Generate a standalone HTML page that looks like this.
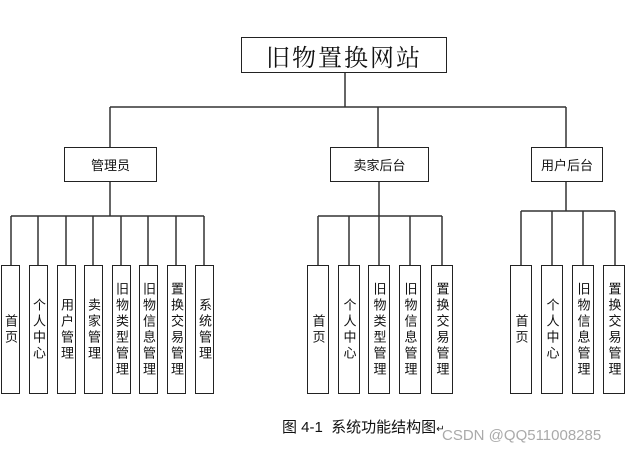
<!DOCTYPE html>
<html><head><meta charset="utf-8"><style>
body{margin:0;width:632px;height:454px;background:#fff;position:relative;overflow:hidden;font-family:"Liberation Sans","Noto Sans CJK SC",sans-serif;}
.b{position:absolute;border:1.5px solid #222;box-sizing:border-box;display:flex;align-items:center;justify-content:center;color:#111;background:#fff}
.v{writing-mode:vertical-rl;font-size:13px;letter-spacing:3px;line-height:1}
svg{position:absolute;left:0;top:0}
</style></head><body>
<svg width="632" height="454">
<g stroke="#333" stroke-width="1.5" fill="none">
<line x1="345" y1="72" x2="345" y2="107"/>
<line x1="110" y1="107" x2="566" y2="107"/>
<line x1="110" y1="107" x2="110" y2="147"/>
<line x1="378" y1="107" x2="378" y2="147"/>
<line x1="566" y1="107" x2="566" y2="147"/>
<line x1="110" y1="182" x2="110" y2="216"/>
<line x1="11" y1="216" x2="204" y2="216"/>
<line x1="11" y1="216" x2="11" y2="265"/><line x1="38" y1="216" x2="38" y2="265"/><line x1="66" y1="216" x2="66" y2="265"/><line x1="93" y1="216" x2="93" y2="265"/><line x1="121" y1="216" x2="121" y2="265"/><line x1="148" y1="216" x2="148" y2="265"/><line x1="176" y1="216" x2="176" y2="265"/><line x1="204" y1="216" x2="204" y2="265"/>
<line x1="379" y1="182" x2="379" y2="216"/>
<line x1="318" y1="216" x2="442" y2="216"/>
<line x1="318" y1="216" x2="318" y2="265"/><line x1="349" y1="216" x2="349" y2="265"/><line x1="379" y1="216" x2="379" y2="265"/><line x1="410" y1="216" x2="410" y2="265"/><line x1="442" y1="216" x2="442" y2="265"/>
<line x1="566" y1="182" x2="566" y2="211"/>
<line x1="521" y1="211" x2="615" y2="211"/>
<line x1="521" y1="211" x2="521" y2="265"/><line x1="552" y1="211" x2="552" y2="265"/><line x1="583" y1="211" x2="583" y2="265"/><line x1="615" y1="211" x2="615" y2="265"/>
</g></svg>
<div class="b" style="left:241px;top:37px;width:206px;height:36px;font-family:'Liberation Serif','Noto Serif CJK SC',serif;font-size:24px;letter-spacing:2px">旧物置换网站</div>
<div class="b" style="left:64px;top:147px;width:93px;height:35px;font-size:13px">管理员</div>
<div class="b" style="left:330px;top:147px;width:99px;height:35px;font-size:13px">卖家后台</div>
<div class="b" style="left:531px;top:147px;width:72px;height:35px;font-size:13px">用户后台</div>

<div class="b" style="left:1px;top:265px;width:19px;height:129px"><span class="v">首页</span></div>
<div class="b" style="left:29px;top:265px;width:19px;height:129px"><span class="v">个人中心</span></div>
<div class="b" style="left:57px;top:265px;width:19px;height:129px"><span class="v">用户管理</span></div>
<div class="b" style="left:84px;top:265px;width:19px;height:129px"><span class="v">卖家管理</span></div>
<div class="b" style="left:112px;top:265px;width:19px;height:129px"><span class="v">旧物类型管理</span></div>
<div class="b" style="left:139px;top:265px;width:19px;height:129px"><span class="v">旧物信息管理</span></div>
<div class="b" style="left:167px;top:265px;width:19px;height:129px"><span class="v">置换交易管理</span></div>
<div class="b" style="left:195px;top:265px;width:19px;height:129px"><span class="v">系统管理</span></div>

<div class="b" style="left:307px;top:265px;width:22px;height:129px"><span class="v">首页</span></div>
<div class="b" style="left:338px;top:265px;width:22px;height:129px"><span class="v">个人中心</span></div>
<div class="b" style="left:368px;top:265px;width:22px;height:129px"><span class="v">旧物类型管理</span></div>
<div class="b" style="left:399px;top:265px;width:22px;height:129px"><span class="v">旧物信息管理</span></div>
<div class="b" style="left:431px;top:265px;width:22px;height:129px"><span class="v">置换交易管理</span></div>

<div class="b" style="left:510px;top:265px;width:22px;height:129px"><span class="v">首页</span></div>
<div class="b" style="left:541px;top:265px;width:22px;height:129px"><span class="v">个人中心</span></div>
<div class="b" style="left:572px;top:265px;width:22px;height:129px"><span class="v">旧物信息管理</span></div>
<div class="b" style="left:603px;top:265px;width:22px;height:129px"><span class="v">置换交易管理</span></div>

<div style="position:absolute;left:282px;top:416px;font-size:15px;color:#111;white-space:nowrap">图 4-1&nbsp; 系统功能结构图<span style="font-size:10px">↵</span></div>
<div style="position:absolute;left:442px;top:427px;font-size:15px;color:#aaa;white-space:nowrap">CSDN @QQ511008285</div>
</body></html>
